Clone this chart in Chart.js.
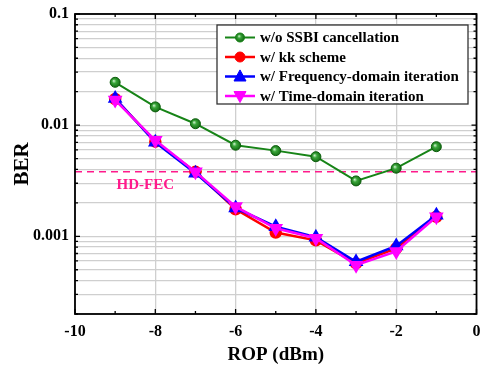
<!DOCTYPE html>
<html>
<head>
<meta charset="utf-8">
<script src="https://cdn.jsdelivr.net/npm/chart.js@4.4.0/dist/chart.umd.min.js"></script>
<style>
  html, body { margin: 0; padding: 0; background: #ffffff; }
  #wrap { width: 485px; height: 368px; position: relative; }
</style>
</head>
<body>
<div id="wrap"><canvas id="c" width="485" height="368"></canvas></div>
<script>
// ---- data ----
const ropValues = [-9, -8, -7, -6, -5, -4, -3, -2, -1];
const berNoCancel = [0.0243, 0.0146, 0.0103, 0.0066, 0.0059, 0.0052, 0.00315, 0.0041, 0.0064];
const berKK = [0.0172, 0.0071, 0.0038, 0.00175, 0.00108, 0.00092, 0.00057, 0.00078, 0.0015];
const berFreq = [0.0174, 0.0070, 0.0037, 0.0018, 0.00122, 0.00098, 0.00059, 0.00082, 0.00155];
const berTime = [0.0168, 0.0073, 0.0038, 0.00185, 0.00118, 0.00096, 0.00055, 0.00073, 0.0015];
const hdFecThreshold = 0.0038;
const seriesNames = ['w/o SSBI cancellation', 'w/ kk scheme', 'w/ Frequency-domain iteration', 'w/ Time-domain iteration'];
const hdFecLabel = 'HD-FEC';
const xTickValues = [-10, -8, -6, -4, -2, 0];
const xTickLabels = ['-10', '-8', '-6', '-4', '-2', '0'];
const yMajorValues = [0.001, 0.01, 0.1];
const yTickLabels = ['0.001', '0.01', '0.1'];
const xTitle = 'ROP (dBm)';
const yTitle = 'BER';

// ---- helpers ----
const FONT = "'Liberation Serif', 'Times New Roman', serif";
const GREEN = '#178417';
const toPts = (arr) => ropValues.map((x, i) => ({ x: x, y: arr[i] }));
const yAllTicks = (function () {
  const out = [];
  for (let e = -4; e <= -1; e++) {
    for (let m = 1; m <= 9; m++) {
      const v = +(m * Math.pow(10, e)).toPrecision(3);
      if (v >= 0.0002 - 1e-12 && v <= 0.1 + 1e-12) out.push(v);
    }
  }
  return out;
})();
const isMajorY = (v) => yMajorValues.some(m => Math.abs(m - v) / m < 1e-6);

function greenBall(c) {
  try {
    if (c.type !== 'data') return GREEN;
    const ch = c.chart;
    const xs = ch.scales.x, ys = ch.scales.y;
    const px = xs.getPixelForValue(c.parsed.x), py = ys.getPixelForValue(c.parsed.y);
    if (!isFinite(px) || !isFinite(py)) return GREEN;
    const g = ch.ctx.createRadialGradient(px - 1.5, py - 1.5, 0, px, py, 6);
    g.addColorStop(0, '#d8f5d8');
    g.addColorStop(0.35, '#3aa63a');
    g.addColorStop(1, '#0b5e0b');
    return g;
  } catch (e) { return GREEN; }
}

function drawMarker(ctx, style, x, y, r, fill, stroke) {
  ctx.save();
  ctx.fillStyle = fill; ctx.strokeStyle = stroke; ctx.lineWidth = 1;
  ctx.beginPath();
  if (style === 'circle') {
    ctx.arc(x, y, r, 0, Math.PI * 2);
  } else if (style === 'up') {
    ctx.moveTo(x, y - r * 1.1); ctx.lineTo(x + r, y + r * 0.75); ctx.lineTo(x - r, y + r * 0.75); ctx.closePath();
  } else {
    ctx.moveTo(x, y + r * 1.1); ctx.lineTo(x + r, y - r * 0.75); ctx.lineTo(x - r, y - r * 0.75); ctx.closePath();
  }
  ctx.fill(); ctx.stroke();
  ctx.restore();
}

const framePlugin = {
  id: 'frame',
  afterDatasetsDraw(chart) {
    const ctx = chart.ctx, a = chart.chartArea;
    const xs = chart.scales.x, ys = chart.scales.y;
    ctx.save();
    // HD-FEC label
    ctx.fillStyle = '#ff1a8c';
    ctx.font = 'bold 15px ' + FONT;
    ctx.textAlign = 'center'; ctx.textBaseline = 'middle';
    ctx.fillText(hdFecLabel, xs.getPixelForValue(-8.25), ys.getPixelForValue(hdFecThreshold) + 13);
    // inward ticks
    ctx.strokeStyle = '#000'; ctx.lineWidth = 1.3;
    ctx.beginPath();
    for (let v = -10; v <= 0; v++) {
      const px = xs.getPixelForValue(v);
      const len = (v % 2 === 0) ? 5 : 3;
      ctx.moveTo(px, a.bottom); ctx.lineTo(px, a.bottom - len);
      ctx.moveTo(px, a.top); ctx.lineTo(px, a.top + len);
    }
    yAllTicks.forEach(v => {
      const py = ys.getPixelForValue(v);
      const len = isMajorY(v) ? 5 : 3;
      ctx.moveTo(a.left, py); ctx.lineTo(a.left + len, py);
      ctx.moveTo(a.right, py); ctx.lineTo(a.right - len, py);
    });
    ctx.stroke();
    // frame
    ctx.lineWidth = 1.8;
    ctx.strokeRect(a.left, a.top, a.right - a.left, a.bottom - a.top);
    ctx.restore();
  },
  afterDraw(chart) {
    // legend
    const ctx = chart.ctx;
    const bx = 217, by = 25, bw = 251, bh = 79;
    ctx.save();
    ctx.fillStyle = '#ffffff';
    ctx.fillRect(bx, by, bw, bh);
    ctx.strokeStyle = '#333'; ctx.lineWidth = 1.3;
    ctx.strokeRect(bx, by, bw, bh);
    const styles = ['circle', 'circle', 'up', 'down'];
    const radii = [4.5, 5, 6, 6];
    for (let i = 0; i < 4; i++) {
      const ds = chart.data.datasets[i];
      const y = 37.5 + i * 19.5;
      ctx.strokeStyle = ds.borderColor; ctx.lineWidth = ds.borderWidth;
      ctx.beginPath(); ctx.moveTo(225, y); ctx.lineTo(255, y); ctx.stroke();
      let fill = ds.borderColor;
      if (i === 0) {
        const g = ctx.createRadialGradient(239, y - 1.5, 0, 240, y, 5);
        g.addColorStop(0, '#d8f5d8'); g.addColorStop(0.35, '#3aa63a'); g.addColorStop(1, '#0b5e0b');
        fill = g;
      }
      drawMarker(ctx, styles[i], 240, y, radii[i], fill, ds.borderColor);
      ctx.fillStyle = '#000';
      ctx.font = 'bold 15px ' + FONT;
      ctx.textAlign = 'left'; ctx.textBaseline = 'middle';
      ctx.fillText(ds.label, 260, y + 1);
    }
    ctx.restore();
  }
};

new Chart(document.getElementById('c'), {
  type: 'line',
  data: {
    datasets: [
      { label: seriesNames[0], data: toPts(berNoCancel), borderColor: GREEN, backgroundColor: GREEN,
        pointBackgroundColor: greenBall, pointBorderColor: '#0b5e0b', pointBorderWidth: 1,
        borderWidth: 2, pointRadius: 5, pointStyle: 'circle', order: 3 },
      { label: seriesNames[1], data: toPts(berKK), borderColor: '#ff0000', backgroundColor: '#ff0000',
        borderWidth: 2.5, pointRadius: 5, pointStyle: 'circle', order: 2 },
      { label: seriesNames[2], data: toPts(berFreq), borderColor: '#0000ff', backgroundColor: '#0000ff',
        borderWidth: 2.5, pointRadius: 6, pointStyle: 'triangle', order: 1 },
      { label: seriesNames[3], data: toPts(berTime), borderColor: '#ff00ff', backgroundColor: '#ff00ff',
        borderWidth: 2.5, pointRadius: 6, pointStyle: 'triangle', pointRotation: 180, order: 0 },
      { label: hdFecLabel, data: [{ x: -10, y: hdFecThreshold }, { x: 0, y: hdFecThreshold }],
        borderColor: '#ff1a8c', borderWidth: 1.5, borderDash: [7, 5], pointRadius: 0, order: 5 }
    ]
  },
  options: {
    responsive: false,
    animation: false,
    layout: { padding: { top: 14, right: 7, left: 0, bottom: 0 } },
    plugins: { legend: { display: false }, tooltip: { enabled: false } },
    elements: { line: { tension: 0 } },
    scales: {
      x: {
        type: 'linear', min: -10, max: 0,
        afterFit: (s) => { s.height = 54; s.paddingLeft = 0; s.paddingRight = 0; },
        afterBuildTicks: (s) => { s.ticks = []; for (let v = -10; v <= 0; v++) s.ticks.push({ value: v }); },
        ticks: {
          autoSkip: false, maxRotation: 0, padding: 8, color: '#000',
          font: { family: FONT, size: 16, weight: 'bold' },
          callback: (v) => { const i = xTickValues.indexOf(v); return i >= 0 ? xTickLabels[i] : ''; }
        },
        grid: {
          drawTicks: false, lineWidth: 1.3,
          color: (c) => (c.tick && Math.round(c.tick.value) % 2 === 0) ? '#cfcfcf' : 'rgba(0,0,0,0)'
        },
        border: { display: false },
        title: { display: true, text: xTitle, color: '#000', font: { family: FONT, size: 19, weight: 'bold' }, padding: { top: 0, bottom: 2 } }
      },
      y: {
        type: 'logarithmic', min: 0.0002, max: 0.1,
        afterFit: (s) => { s.width = 75; s.paddingTop = 0; s.paddingBottom = 0; },
        afterBuildTicks: (s) => { s.ticks = yAllTicks.map(v => ({ value: v })); },
        ticks: {
          autoSkip: false, padding: 6, color: '#000',
          font: { family: FONT, size: 16, weight: 'bold' },
          callback: (v) => { const i = yMajorValues.findIndex(m => Math.abs(m - v) / m < 1e-6); return i >= 0 ? yTickLabels[i] : ''; }
        },
        grid: { drawTicks: false, lineWidth: 1.3, color: '#cfcfcf' },
        border: { display: false },
        title: { display: true, text: yTitle, color: '#000', font: { family: FONT, size: 21, weight: 'bold' }, padding: { top: 10, bottom: 0 } }
      }
    }
  },
  plugins: [framePlugin]
});
</script>
</body>
</html>
